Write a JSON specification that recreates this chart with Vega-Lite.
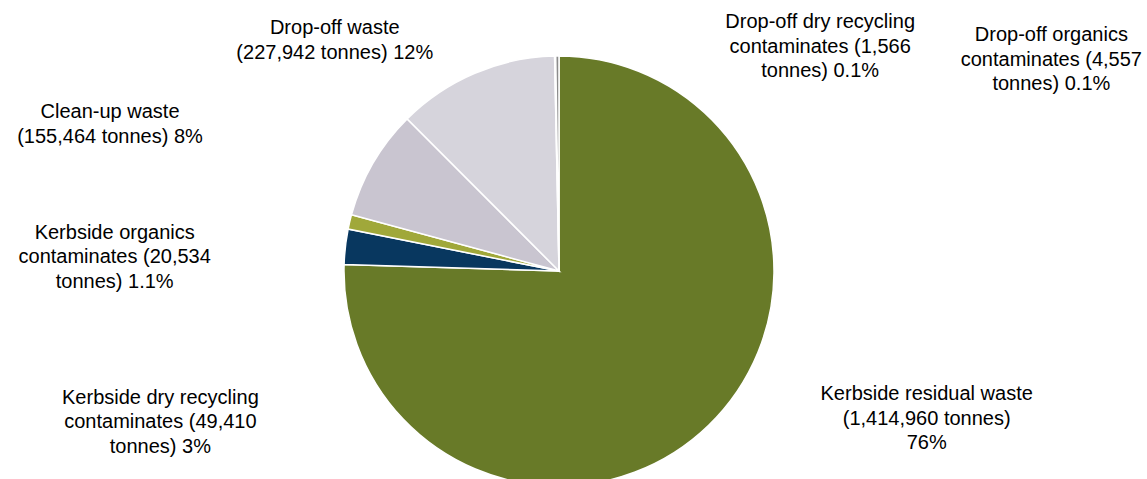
{
  "$schema": "https://vega.github.io/schema/vega-lite/v6.json",
  "width": 1118,
  "height": 416,
  "autosize": {"type": "none"},
  "padding": {"top": 63, "left": 0, "right": 29, "bottom": 0},
  "background": "white",
  "config": {
    "view": {"stroke": null},
    "text": {"font": "Liberation Sans", "fontSize": 20, "lineHeight": 24.5, "color": "#000000", "align": "center", "baseline": "middle"}
  },
  "data": {
    "values": [
      {"order": 1, "category": "Kerbside residual waste", "tonnes": 1414960, "label": ["Kerbside residual waste", "(1,414,960 tonnes)", "76%"]},
      {"order": 2, "category": "Kerbside dry recycling contaminates", "tonnes": 49410, "label": ["Kerbside dry recycling", "contaminates (49,410", "tonnes) 3%"]},
      {"order": 3, "category": "Kerbside organics contaminates", "tonnes": 20534, "label": ["Kerbside organics", "contaminates (20,534", "tonnes) 1.1%"]},
      {"order": 4, "category": "Clean-up waste", "tonnes": 155464, "label": ["Clean-up waste", "(155,464 tonnes) 8%"]},
      {"order": 5, "category": "Drop-off waste", "tonnes": 227942, "label": ["Drop-off waste", "(227,942 tonnes) 12%"]},
      {"order": 6, "category": "Drop-off dry recycling contaminates", "tonnes": 1566, "label": ["Drop-off dry recycling", "contaminates (1,566", "tonnes) 0.1%"]},
      {"order": 7, "category": "Drop-off organics contaminates", "tonnes": 4557, "label": ["Drop-off organics", "contaminates (4,557", "tonnes) 0.1%"]}
    ]
  },
  "transform": [
    {"window": [{"op": "sum", "field": "tonnes", "as": "cum"}], "sort": [{"field": "order"}]},
    {"calculate": "datum.cum - datum.tonnes / 2", "as": "mid"}
  ],
  "layer": [
    {
      "mark": {"type": "arc", "outerRadius": 215, "stroke": "white", "strokeWidth": 1.5},
      "encoding": {
        "theta": {"field": "tonnes", "type": "quantitative", "stack": true},
        "order": {"field": "order", "type": "quantitative"},
        "color": {
          "field": "category",
          "type": "nominal",
          "scale": {
            "domain": ["Kerbside residual waste", "Kerbside dry recycling contaminates", "Kerbside organics contaminates", "Clean-up waste", "Drop-off waste", "Drop-off dry recycling contaminates", "Drop-off organics contaminates"],
            "range": ["#687A28", "#08375F", "#A0A83A", "#C9C5D0", "#D6D4DC", "#A6A6A6", "#8C8C8C"]
          },
          "legend": null
        }
      }
    },
    {
      "transform": [{"filter": "datum.order == 1"}],
      "mark": {"type": "text", "radius": 215, "dx": 218, "dy": -31},
      "encoding": {"theta": {"field": "mid", "type": "quantitative", "stack": null}, "text": {"field": "label"}}
    },
    {
      "transform": [{"filter": "datum.order == 2"}],
      "mark": {"type": "text", "radius": 215, "dx": -185, "dy": 151},
      "encoding": {"theta": {"field": "mid", "type": "quantitative", "stack": null}, "text": {"field": "label"}}
    },
    {
      "transform": [{"filter": "datum.order == 3"}],
      "mark": {"type": "text", "radius": 215, "dx": -235, "dy": 11},
      "encoding": {"theta": {"field": "mid", "type": "quantitative", "stack": null}, "text": {"field": "label"}}
    },
    {
      "transform": [{"filter": "datum.order == 4"}],
      "mark": {"type": "text", "radius": 215, "dx": -263, "dy": -51},
      "encoding": {"theta": {"field": "mid", "type": "quantitative", "stack": null}, "text": {"field": "label"}}
    },
    {
      "transform": [{"filter": "datum.order == 5"}],
      "mark": {"type": "text", "radius": 215, "dx": -140, "dy": -45},
      "encoding": {"theta": {"field": "mid", "type": "quantitative", "stack": null}, "text": {"field": "label"}}
    },
    {
      "transform": [{"filter": "datum.order == 6"}],
      "mark": {"type": "text", "radius": 215, "dx": 265, "dy": -34},
      "encoding": {"theta": {"field": "mid", "type": "quantitative", "stack": null}, "text": {"field": "label"}}
    },
    {
      "transform": [{"filter": "datum.order == 7"}],
      "mark": {"type": "text", "radius": 215, "dx": 494, "dy": -21},
      "encoding": {"theta": {"field": "mid", "type": "quantitative", "stack": null}, "text": {"field": "label"}}
    }
  ]
}
